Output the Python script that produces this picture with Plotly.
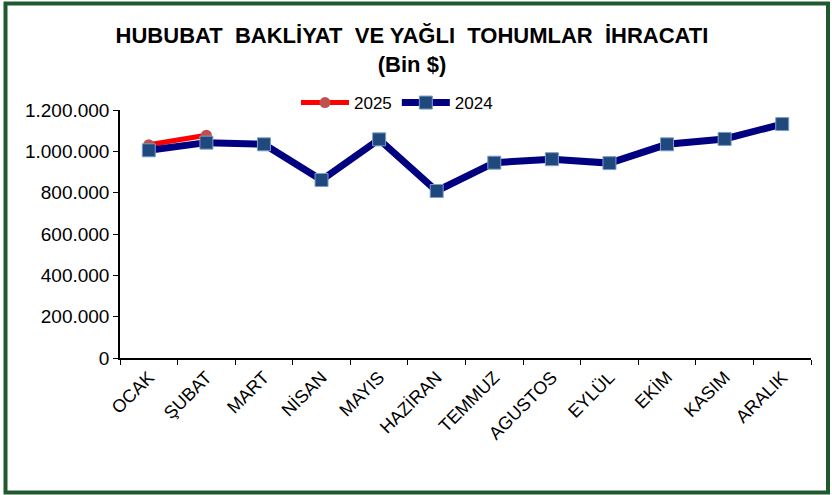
import plotly.graph_objects as go

months = ["OCAK", "ŞUBAT", "MART", "NİSAN", "MAYIS", "HAZİRAN", "TEMMUZ",
          "AGUSTOS", "EYLÜL", "EKİM", "KASIM", "ARALIK"]
values_2024 = [1005000, 1042000, 1034000, 861000, 1058000, 808000, 945000,
               962000, 943000, 1034000, 1060000, 1132000]
values_2025 = [1032000, 1078000]
yticks = [0, 200000, 400000, 600000, 800000, 1000000, 1200000]

W, H = 832, 495
L, R, T, B = 120, 21, 110, 137
pw, ph = W - L - R, H - T - B

def px_x(p):
    return (p - L) / pw

def px_y(p):
    return (H - B - p) / ph

font = "Liberation Sans, Arial, sans-serif"

fig = go.Figure()
fig.add_trace(go.Scatter(
    x=months[:len(values_2025)], y=values_2025, name="2025",
    mode="lines+markers", legendrank=1,
    line=dict(color="#FF0000", width=5),
    marker=dict(symbol="circle", size=11, color="#C0504D"),
))
fig.add_trace(go.Scatter(
    x=months, y=values_2024, name="2024",
    mode="lines+markers", legendrank=2,
    line=dict(color="#000080", width=7),
    marker=dict(symbol="square", size=13, color="#1F497D",
                line=dict(color="#7F9CC8", width=1)),
))

fig.update_layout(
    width=W, height=H,
    margin=dict(l=L, r=R, t=T, b=B, autoexpand=False),
    paper_bgcolor="white", plot_bgcolor="white",
    separators=",.",
    font=dict(family=font, size=17, color="#000000"),
    title=dict(
        text="<b>HUBUBAT  BAKLİYAT  VE YAĞLI  TOHUMLAR  İHRACATI</b><br><b>(Bin $)</b>",
        x=412 / W, xanchor="center", y=1 - 43 / H, yanchor="top",
        font=dict(family=font, size=22, color="#000000"),
    ),
    legend=dict(
        orientation="h", x=px_x(397), xanchor="center", y=px_y(103), yanchor="middle",
        font=dict(family=font, size=17), bgcolor="rgba(0,0,0,0)",
        itemwidth=48, tracegroupgap=0,
    ),
    showlegend=True,
    xaxis=dict(
        type="category", categoryorder="array", categoryarray=months,
        range=[-0.5, len(months) - 0.5],
        showline=True, linecolor="#000000", linewidth=1.5,
        ticks="outside", ticklen=5, tickcolor="#000000", tickson="boundaries",
        tickangle=-45, showgrid=False, zeroline=False, automargin=False,
        tickfont=dict(family=font, size=18),
    ),
    yaxis=dict(
        range=[0, 1200000], tickvals=yticks, tickformat=",d",
        showline=True, linecolor="#000000", linewidth=1.5,
        ticks="outside", ticklen=5, tickcolor="#000000",
        showgrid=False, zeroline=False, automargin=False,
        tickfont=dict(family=font, size=19),
    ),
    shapes=[dict(
        type="rect", xref="paper", yref="paper",
        x0=px_x(5.5), x1=px_x(828), y0=px_y(492.5), y1=px_y(3.5),
        line=dict(color="#1F5A2F", width=4), fillcolor="rgba(0,0,0,0)",
        layer="below",
    )],
)

fig.write_html(
    "out.html",
    config={"displayModeBar": False},
    post_script="document.body.style.margin='0';document.body.style.overflow='hidden';",
)
